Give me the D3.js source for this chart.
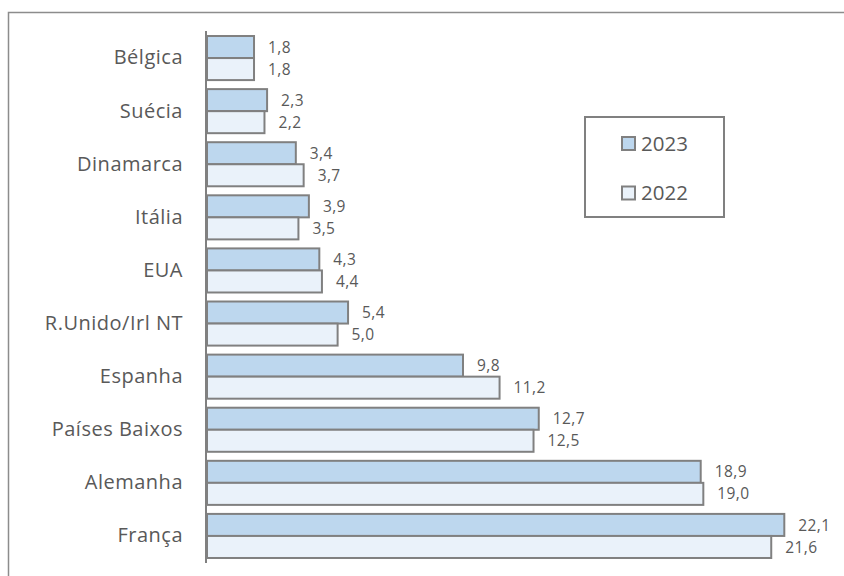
<!DOCTYPE html>
<html><head><meta charset="utf-8">
<script src="https://cdn.jsdelivr.net/npm/d3@7"></script>
<style>body{margin:0;background:#fff}svg{display:block}</style>
</head><body>
<script>
const categories = ["Bélgica","Suécia","Dinamarca","Itália","EUA","R.Unido/Irl NT","Espanha","Países Baixos","Alemanha","França"];
const series = ["2023","2022"];
const values2023 = [1.8,2.3,3.4,3.9,4.3,5.4,9.8,12.7,18.9,22.1];
const values2022 = [1.8,2.2,3.7,3.5,4.4,5.0,11.2,12.5,19.0,21.6];
const colors = {"2023":"#BDD7EE","2022":"#EAF2FA"};

const W=844,H=576;
const svg=d3.select("body").append("svg").attr("width",W).attr("height",H);
const font="'Open Sans', sans-serif";
const textCol="#595959", lineCol="#808080";

// outer frame (only left/top visible)
svg.append("rect").attr("x",8.5).attr("y",12.5).attr("width",1000).attr("height",1000)
  .attr("fill","none").attr("stroke","#8c8c8c").attr("stroke-width",1.5);

const x0=207;
const x=d3.scaleLinear().domain([0,22.1]).range([x0,x0+577.3]);
const y=d3.scaleBand().domain(categories).range([31.5,562.5]).paddingInner(0.17).paddingOuter(0.085);
const ys=d3.scaleBand().domain(series).range([0,y.bandwidth()]);

const data=categories.map((c,i)=>({c,v:{"2023":values2023[i],"2022":values2022[i]}}));
const g=svg.append("g");
const fmt=v=>d3.format(".1f")(v).replace(".",",");

data.forEach(d=>{
  series.forEach(s=>{
    const yy=y(d.c)+ys(s);
    g.append("rect").attr("x",x(0)).attr("y",yy).attr("width",x(d.v[s])-x(0)).attr("height",ys.bandwidth())
      .attr("fill",colors[s]).attr("stroke",lineCol).attr("stroke-width",2);
    g.append("text").attr("x",x(d.v[s])+14).attr("y",yy+ys.bandwidth()/2).attr("dy","0.36em")
      .attr("font-family",font).attr("font-size",15.5).attr("letter-spacing",0.4).attr("fill",textCol)
      .text(fmt(d.v[s]));
  });
});

// category axis
const ax=svg.append("g").attr("transform",`translate(${x0-1},0)`)
  .call(d3.axisLeft(y).tickSize(0).tickPadding(23));
ax.select(".domain").attr("stroke",lineCol).attr("stroke-width",2).attr("d","M0,31V563");
ax.selectAll("text").attr("font-family",font).attr("font-size",20).attr("letter-spacing",0.5).attr("fill",textCol);

// legend
const lg=svg.append("g");
lg.append("rect").attr("x",585).attr("y",117).attr("width",139).attr("height",100)
  .attr("fill","#fff").attr("stroke",lineCol).attr("stroke-width",2);
const ly=d3.scalePoint().domain(series).range([143.5,193]);
series.forEach(s=>{
  lg.append("rect").attr("x",622).attr("y",ly(s)-6.5).attr("width",13).attr("height",13)
    .attr("fill",colors[s]).attr("stroke",lineCol).attr("stroke-width",2);
  lg.append("text").attr("x",641).attr("y",ly(s)).attr("dy","0.36em")
    .attr("font-family",font).attr("font-size",20.5).attr("fill",textCol).text(s);
});
</script>
</body></html>
